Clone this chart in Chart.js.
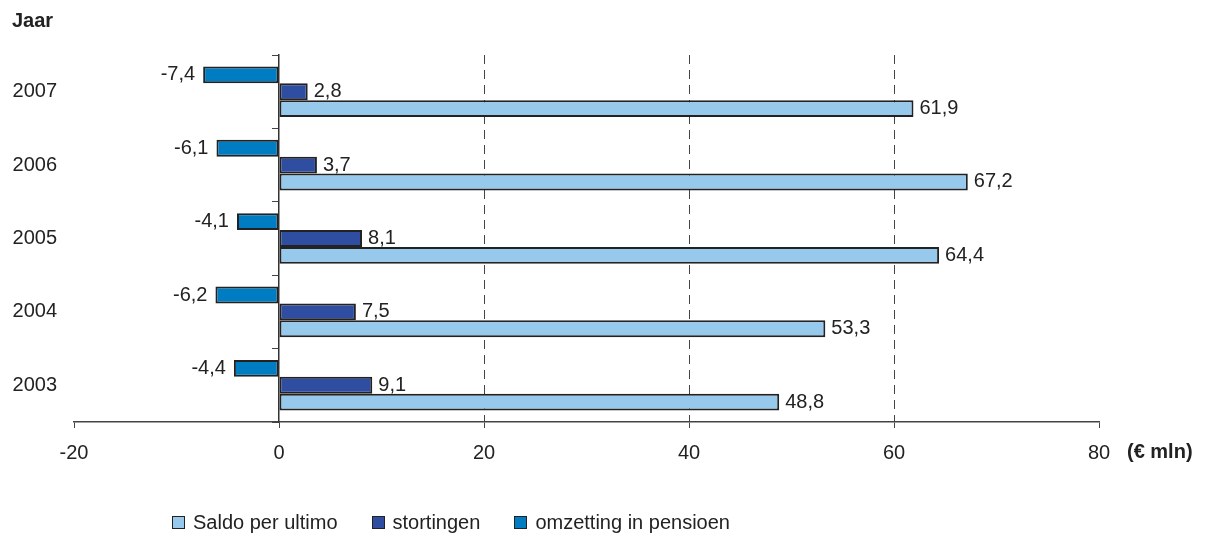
<!DOCTYPE html>
<html lang="nl">
<head>
  <meta charset="UTF-8">
  <title>Saldo, stortingen en omzetting in pensioen</title>
  <script src="https://cdn.jsdelivr.net/npm/chart.js"></script>
  <style>
    body { margin: 0; background: #fff; font-family: "Liberation Sans", Arial, sans-serif; color: #222; }
    #wrap { position: relative; width: 1213px; height: 535px; }
    .lbl { position: absolute; font-size: 20px; line-height: 20px; font-weight: bold; white-space: nowrap; }
    #legend { position: absolute; left: 172px; top: 512px; display: flex; gap: 34px; font-size: 20px; line-height: 20px; }
    #legend span.item { display: flex; align-items: center; gap: 8px; }
    #legend i { display: inline-block; width: 11px; height: 11px; border: 1.5px solid #222; }
  </style>
</head>
<body>
<div id="wrap">
  <canvas id="myChart" width="1213" height="535"></canvas>
  <div class="lbl" style="left:12px; top:10px;">Jaar</div>
  <div class="lbl" style="left:1127px; top:441px;">(€ mln)</div>
  <div id="legend"></div>
</div>

<script>
  // jaren van boven naar onder
  const years = ['2007', '2006', '2005', '2004', '2003'];
  const saldo = [61.9, 67.2, 64.4, 53.3, 48.8];
  const stortingen = [2.8, 3.7, 8.1, 7.5, 9.1];
  const omzetting = [-7.4, -6.1, -4.1, -6.2, -4.4];
  const xTicks = [-20, 0, 20, 40, 60, 80];

  const colors = {
    saldo: '#97c9ec',
    stortingen: '#2f4ea2',
    omzetting: '#007cc2'
  };

  // legenda in dezelfde volgorde als het origineel
  const legendItems = [
    ['Saldo per ultimo', colors.saldo],
    ['stortingen', colors.stortingen],
    ['omzetting in pensioen', colors.omzetting]
  ];
  document.getElementById('legend').innerHTML = legendItems
    .map(([t, c]) => `<span class="item"><i style="background:${c}"></i>${t}</span>`)
    .join('');

  // waarden naast de balken tekenen
  const valueLabels = {
    id: 'valueLabels',
    afterDatasetsDraw(chart) {
      const ctx = chart.ctx;
      ctx.save();
      ctx.font = '20px "Liberation Sans", Arial, sans-serif';
      ctx.fillStyle = '#222';
      ctx.textBaseline = 'middle';
      chart.data.datasets.forEach((ds, i) => {
        chart.getDatasetMeta(i).data.forEach((bar, j) => {
          const v = ds.data[j];
          const txt = v.toFixed(1).replace('.', ',');
          if (v >= 0) {
            ctx.textAlign = 'left';
            ctx.fillText(txt, bar.x + 6, bar.y);
          } else {
            ctx.textAlign = 'right';
            ctx.fillText(txt, bar.x - 8, bar.y);
          }
        });
      });
      ctx.restore();
    }
  };

  const barStyle = {
    borderColor: '#222',
    borderWidth: 2,
    borderSkipped: false,
    categoryPercentage: 0.69,
    barPercentage: 1
  };

  const ctx = document.getElementById('myChart').getContext('2d');
  new Chart(ctx, {
    type: 'bar',
    data: {
      labels: years,
      datasets: [
        Object.assign({ label: 'omzetting in pensioen', data: omzetting, backgroundColor: colors.omzetting }, barStyle),
        Object.assign({ label: 'stortingen', data: stortingen, backgroundColor: colors.stortingen }, barStyle),
        Object.assign({ label: 'Saldo per ultimo', data: saldo, backgroundColor: colors.saldo }, barStyle)
      ]
    },
    options: {
      indexAxis: 'y',
      responsive: false,
      animation: false,
      layout: { padding: { left: 0, right: 114, top: 55, bottom: 63 } },
      plugins: {
        legend: { display: false },
        tooltip: { enabled: false }
      },
      scales: {
        x: {
          type: 'linear',
          min: -20,
          max: 80,
          afterBuildTicks: (scale) => { scale.ticks = xTicks.map(v => ({ value: v })); },
          afterFit: (scale) => { scale.height = 50; },
          ticks: {
            font: { size: 20, family: '"Liberation Sans", Arial, sans-serif' },
            color: '#222',
            padding: 13
          },
          grid: {
            color: (c) => (c.tick && [20, 40, 60].includes(c.tick.value)) ? '#444' : 'rgba(0,0,0,0)',
            tickColor: '#444',
            tickLength: 6,
            tickBorderDash: [],
            lineWidth: 1
          },
          border: { display: true, color: '#444', width: 1.5, dash: [9, 6] }
        },
        y: {
          type: 'category',
          position: { x: 0 },
          offset: true,
          ticks: { display: false },
          grid: {
            drawOnChartArea: false,
            drawTicks: true,
            tickLength: 6,
            tickColor: '#444',
            offset: true
          },
          border: { display: true, color: '#333', width: 1.5 }
        },
        y2: {
          type: 'category',
          labels: years,
          position: 'left',
          offset: true,
          afterFit: (scale) => { scale.width = 74; },
          ticks: {
            font: { size: 20, family: '"Liberation Sans", Arial, sans-serif' },
            color: '#222',
            padding: 17
          },
          grid: { display: false, drawTicks: false },
          border: { display: false }
        }
      }
    },
    plugins: [valueLabels]
  });
</script>
</body>
</html>
